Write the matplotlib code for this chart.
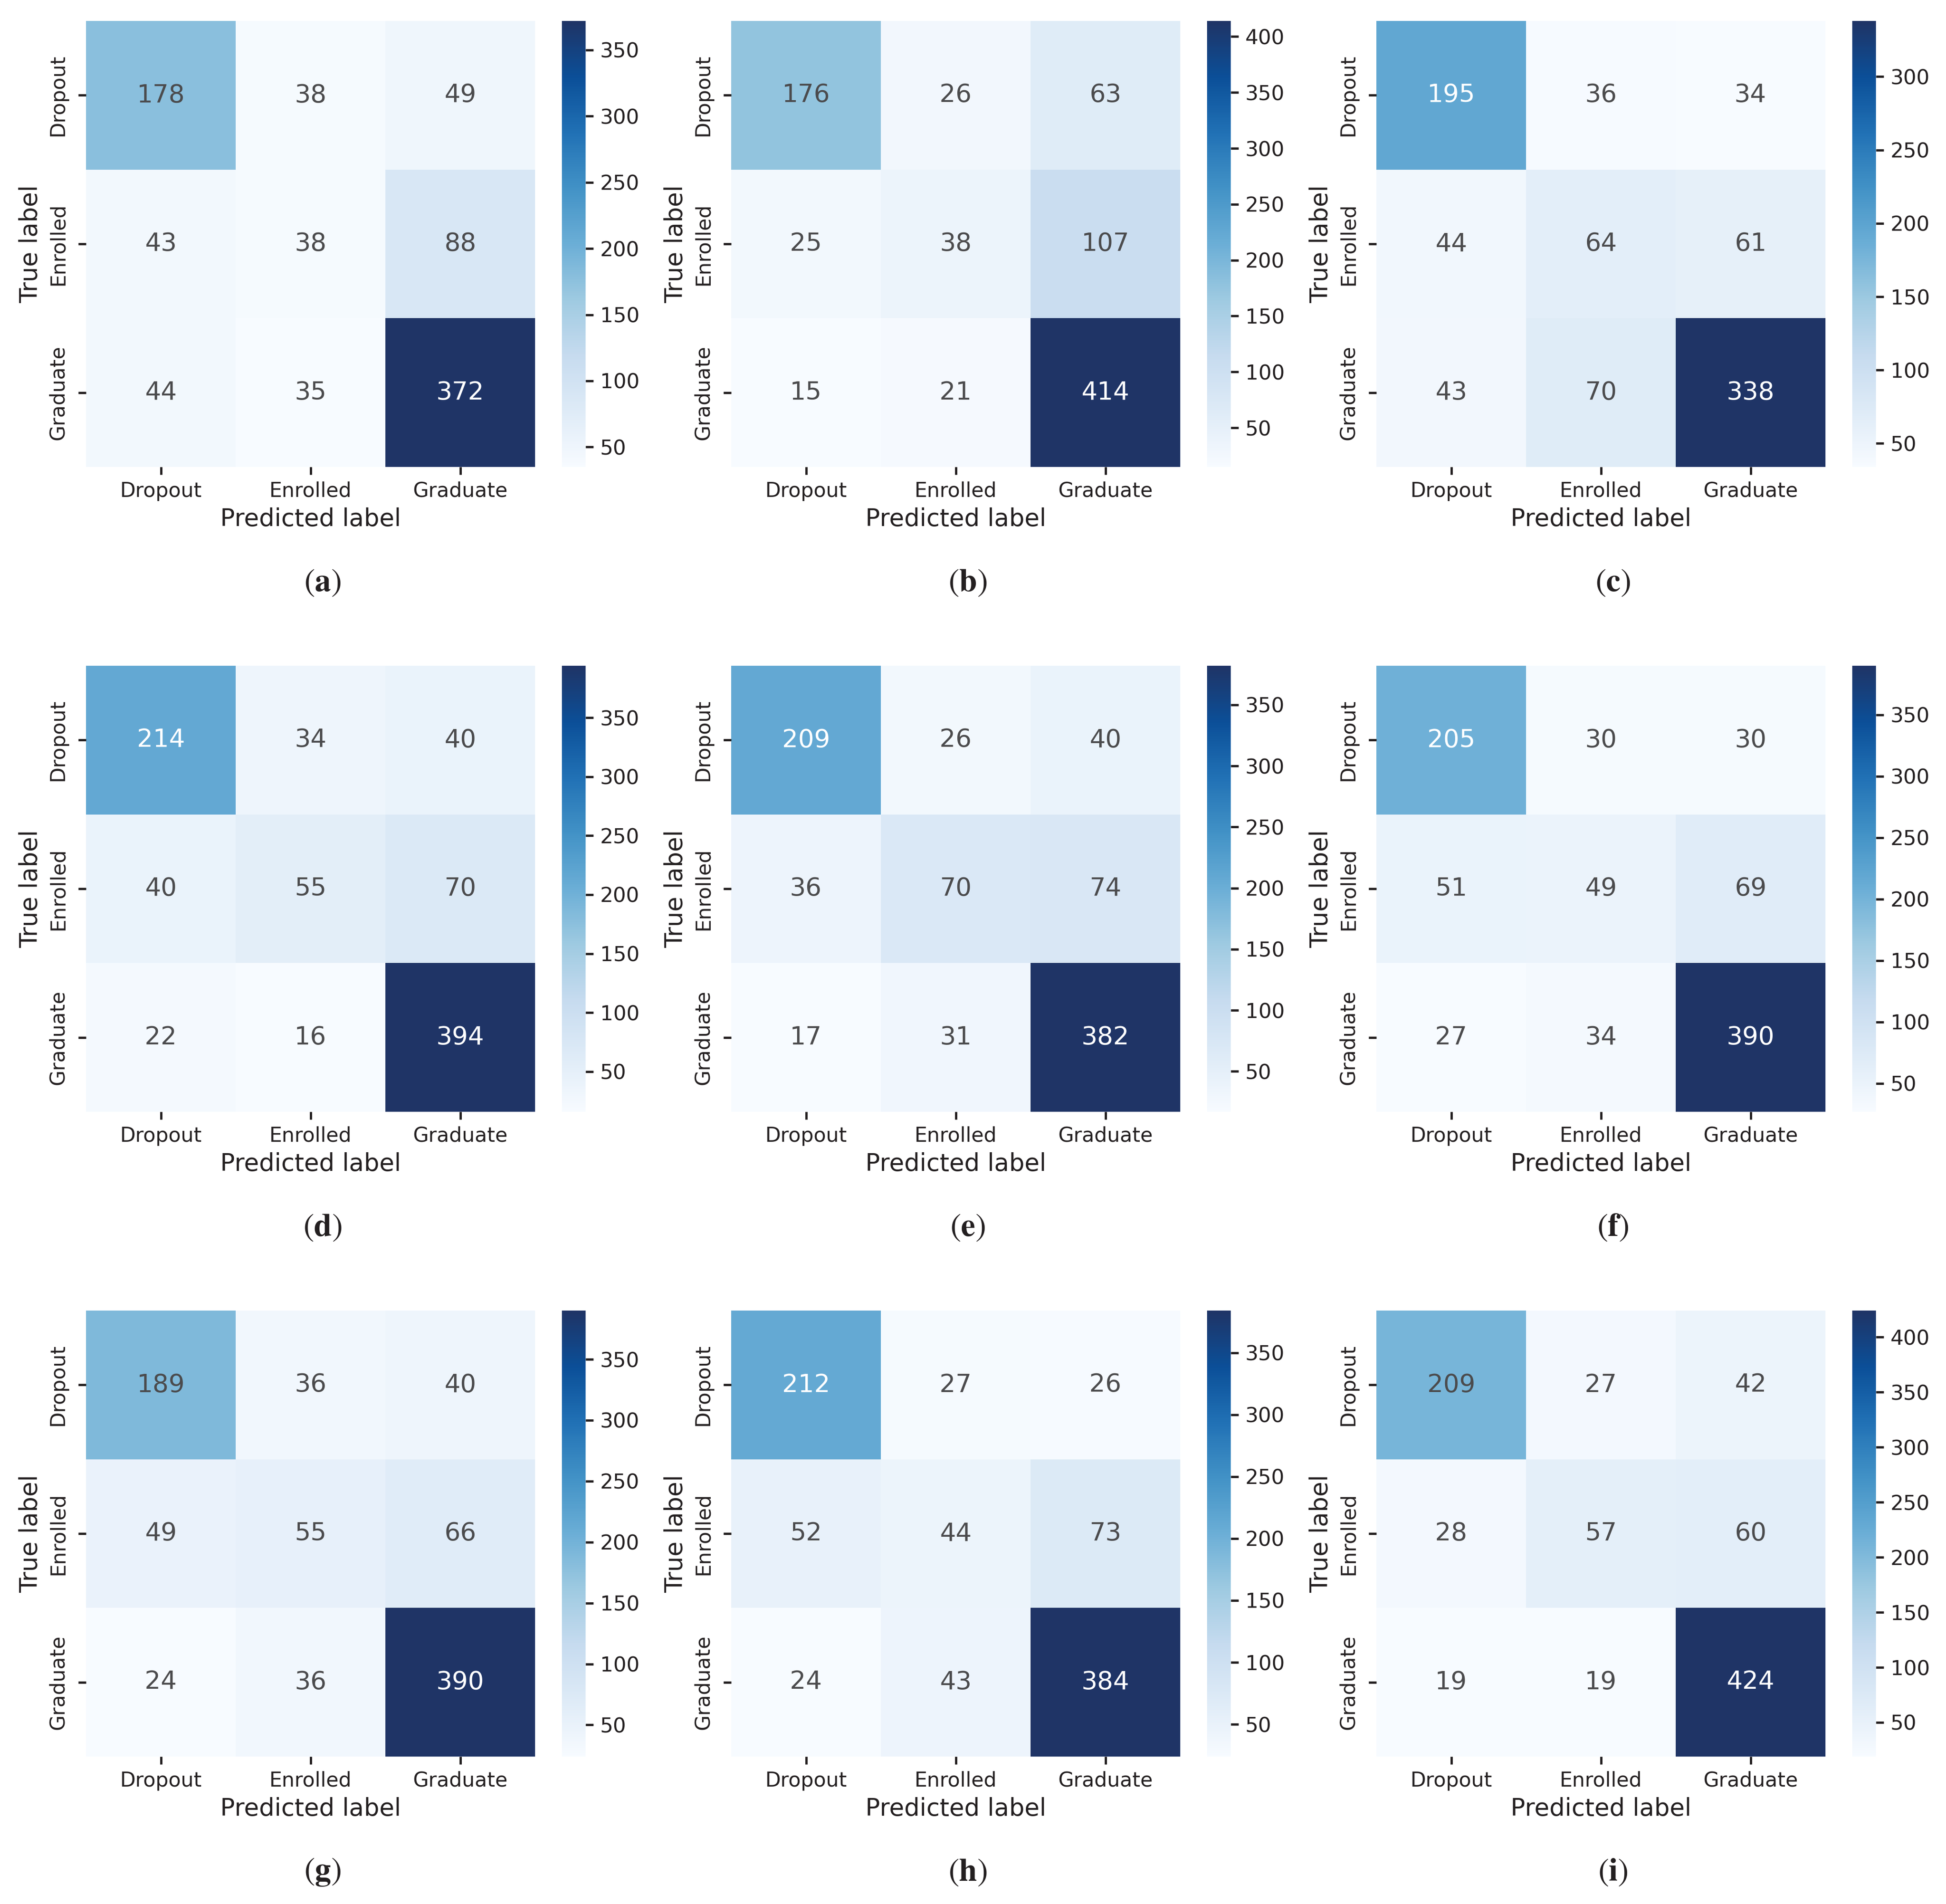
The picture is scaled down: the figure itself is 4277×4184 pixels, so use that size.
import numpy as np
import matplotlib
matplotlib.use("Agg")
import matplotlib.pyplot as plt
from matplotlib.colors import LinearSegmentedColormap
import seaborn as sns

classes = ["Dropout", "Enrolled", "Graduate"]
panel_labels = ["a", "b", "c", "d", "e", "f", "g", "h", "i"]

cm_a = [[178, 38, 49], [43, 38, 88], [44, 35, 372]]
cm_b = [[176, 26, 63], [25, 38, 107], [15, 21, 414]]
cm_c = [[195, 36, 34], [44, 64, 61], [43, 70, 338]]
cm_d = [[214, 34, 40], [40, 55, 70], [22, 16, 394]]
cm_e = [[209, 26, 40], [36, 70, 74], [17, 31, 382]]
cm_f = [[205, 30, 30], [51, 49, 69], [27, 34, 390]]
cm_g = [[189, 36, 40], [49, 55, 66], [24, 36, 390]]
cm_h = [[212, 27, 26], [52, 44, 73], [24, 43, 384]]
cm_i = [[209, 27, 42], [28, 57, 60], [19, 19, 424]]
matrices = [cm_a, cm_b, cm_c, cm_d, cm_e, cm_f, cm_g, cm_h, cm_i]

INK = "#231f20"
ANNOT_DARK = "#4b4b4d"

plt.rcParams["font.family"] = ["DejaVu Sans"]
plt.rcParams["mathtext.fontset"] = "stix"
plt.rcParams["text.color"] = INK
plt.rcParams["axes.labelcolor"] = INK
plt.rcParams["xtick.color"] = INK
plt.rcParams["ytick.color"] = INK

cmap = LinearSegmentedColormap.from_list(
    "blues_conv",
    ["#f7fbff", "#deebf7", "#c6dbef", "#9ecae1", "#6baed6",
     "#4292c6", "#2171b5", "#0b4f98", "#1f3466"])

W, H = 4277, 4184
DPI = 300
fig = plt.figure(figsize=(W / DPI, H / DPI), dpi=DPI)

PITCH_X, PITCH_Y = 1418, 1417
HM_X0, HM_X1, HM_Y0, HM_Y1 = 189, 1176, 46, 1026
CB_X0, CB_X1 = 1235, 1287
CAP_X, CAP_Y = 709, 1280


def fax(x0, y0, x1, y1):
    return [x0 / W, 1 - y1 / H, (x1 - x0) / W, (y1 - y0) / H]


for k, (mat, lab) in enumerate(zip(matrices, panel_labels)):
    r, c = divmod(k, 3)
    ox, oy = c * PITCH_X, r * PITCH_Y
    ax = fig.add_axes(fax(ox + HM_X0, oy + HM_Y0, ox + HM_X1, oy + HM_Y1))
    cax = fig.add_axes(fax(ox + CB_X0, oy + HM_Y0, ox + CB_X1, oy + HM_Y1))
    data = np.array(mat)
    sns.heatmap(data, annot=True, fmt="d", cmap=cmap, ax=ax, cbar_ax=cax,
                xticklabels=classes, yticklabels=classes,
                annot_kws={"fontsize": 13.3})
    for t in ax.texts:
        col = matplotlib.colors.to_rgb(t.get_color())
        if sum(col) < 2.9:
            t.set_color(ANNOT_DARK)
    ax.set_xlabel("Predicted label", fontsize=12.8, labelpad=3.5)
    ax.set_ylabel("True label", fontsize=12.8, labelpad=3)
    ax.tick_params(axis="both", length=4.1, width=1.2, labelsize=10.7)
    ax.tick_params(axis="y", pad=5.5)
    ax.tick_params(axis="x", pad=3.5)
    for tl in ax.get_yticklabels():
        tl.set_rotation(90)
        tl.set_va("center")
    for tl in ax.get_xticklabels():
        tl.set_rotation(0)
    cax.tick_params(length=4.1, width=1.2, labelsize=10.9, pad=3.5)
    fig.text((ox + CAP_X) / W, 1 - (oy + CAP_Y) / H, r"$(\mathbf{%s})$" % lab,
             ha="center", va="center", fontsize=17, color=INK)

fig.savefig("out.png", dpi=DPI)
